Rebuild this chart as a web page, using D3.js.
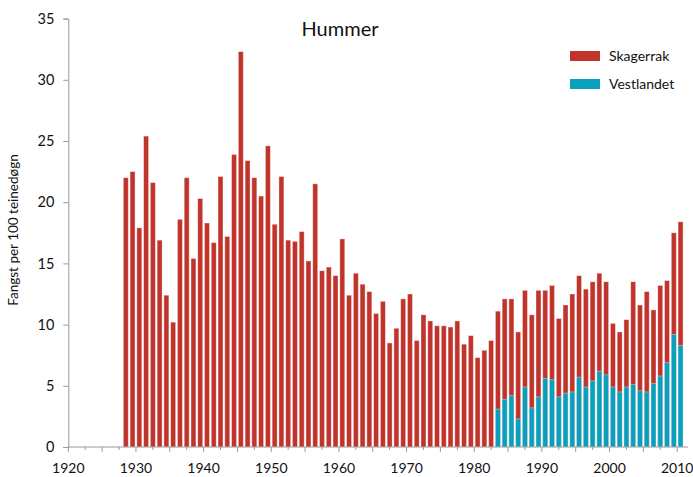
<!DOCTYPE html>
<html>
<head>
<meta charset="utf-8">
<title>Hummer</title>
<script src="https://d3js.org/d3.v7.min.js"></script>
<style>
	body { margin: 0; background: #fff; }
	text { font-family: Lato, "Open Sans", sans-serif; fill: #111; }
</style>
</head>
<body>
<div id="chart"></div>
<script>
// years with data
var years = d3.range(1928, 2011);

// Skagerrak, catch per 100 trap-days (1928-2010)
var skagerrak = [
	22.0, 22.5, 17.9, 25.4, 21.6, 16.9, 12.4, 10.2, 18.6, 22.0,
	15.4, 20.3, 18.3, 16.7, 22.1, 17.2, 23.9, 32.3, 23.4, 22.0,
	20.5, 24.6, 18.2, 22.1, 16.9, 16.8, 17.6, 15.2, 21.5, 14.4,
	14.7, 14.0, 17.0, 12.4, 14.2, 13.3, 12.7, 10.9, 11.9, 8.5,
	9.7, 12.1, 12.5, 8.7, 10.8, 10.3, 9.9, 9.9, 9.8, 10.3,
	8.4, 9.1, 7.3, 7.9, 8.7, 11.1, 12.1, 12.1, 9.4, 12.8,
	10.8, 12.8, 12.8, 13.2, 10.5, 11.6, 12.5, 14.0, 12.9, 13.5,
	14.2, 13.5, 10.1, 9.4, 10.4, 13.5, 11.6, 12.7, 11.2, 13.2,
	13.6, 17.5, 18.4
];

// Vestlandet, catch per 100 trap-days (1983-2010)
var vestYears = d3.range(1983, 2011);
var vestlandet = [
	3.1, 3.9, 4.2, 2.3, 4.9, 3.2, 4.1, 5.6, 5.5, 4.1,
	4.4, 4.5, 5.7, 4.9, 5.4, 6.2, 5.9, 4.9, 4.5, 4.9,
	5.1, 4.6, 4.5, 5.2, 5.8, 6.9, 9.2, 8.3
];

var yTicks = [0, 5, 10, 15, 20, 25, 30, 35];
var xLabels = [1920, 1930, 1940, 1950, 1960, 1970, 1980, 1990, 2000, 2010];
var series = ["Skagerrak", "Vestlandet"];
var colors = ["#c0342c", "#0b9fbe"];

var width = 693, height = 477;

var svg = d3.select("#chart").append("svg")
	.attr("width", width)
	.attr("height", height);

var x = d3.scaleLinear().domain([1920, 2011.6]).range([68.3, 688]);
var y = d3.scaleLinear().domain([0, 35]).range([447, 18.6]);

var barW = x(1921) - x(1920) - 1.8;

function drawBars(yrs, vals, color) {
	svg.append("g")
		.selectAll("rect")
		.data(vals)
		.enter().append("rect")
		.attr("x", function(d, i) { return x(yrs[i]) + 0.9; })
		.attr("y", function(d) { return y(d); })
		.attr("width", barW)
		.attr("height", function(d) { return y(0) - y(d); })
		.attr("fill", color)
		.attr("stroke", "#fff")
		.attr("stroke-opacity", 0.45)
		.attr("stroke-width", 0.8);
}

drawBars(years, skagerrak, colors[0]);
drawBars(vestYears, vestlandet, colors[1]);

// y axis
var yAxis = d3.axisLeft(y).tickValues(yTicks).tickSize(5).tickPadding(9);
var gy = svg.append("g").attr("transform", "translate(68.3,0)").call(yAxis);
gy.selectAll("path, line").attr("stroke", "#999");
gy.selectAll("text").attr("font-size", 14.5).attr("fill", "#111");

// x axis: ticks every 2.5 years, longer every 5
var gx = svg.append("g").attr("transform", "translate(0,447)");
gx.append("line")
	.attr("x1", 68.3).attr("x2", 688)
	.attr("stroke", "#999");
gx.selectAll(".tk")
	.data(d3.range(1920, 2011, 2.5))
	.enter().append("line")
	.attr("x1", function(d) { return x(d); })
	.attr("x2", function(d) { return x(d); })
	.attr("y1", 0)
	.attr("y2", function(d) { return d % 5 === 0 ? 5 : 3; })
	.attr("stroke", "#999");
gx.selectAll(".lbl")
	.data(xLabels)
	.enter().append("text")
	.attr("x", function(d) { return x(d); })
	.attr("y", 26)
	.attr("text-anchor", "middle")
	.attr("font-size", 14)
	.text(function(d) { return d; });

// title
svg.append("text")
	.attr("x", 340).attr("y", 36)
	.attr("text-anchor", "middle")
	.attr("font-size", 20)
	.text("Hummer");

// y label
svg.append("text")
	.attr("transform", "translate(18,230) rotate(-90)")
	.attr("text-anchor", "middle")
	.attr("font-size", 13.5)
	.text("Fangst per 100 teinedøgn");

// legend
var lg = svg.append("g").attr("transform", "translate(570,51)");
series.forEach(function(s, i) {
	lg.append("rect")
		.attr("x", 0).attr("y", i * 28)
		.attr("width", 30).attr("height", 10)
		.attr("fill", colors[i]);
	lg.append("text")
		.attr("x", 39).attr("y", i * 28 + 10)
		.attr("font-size", 14)
		.text(s);
});
</script>
</body>
</html>
